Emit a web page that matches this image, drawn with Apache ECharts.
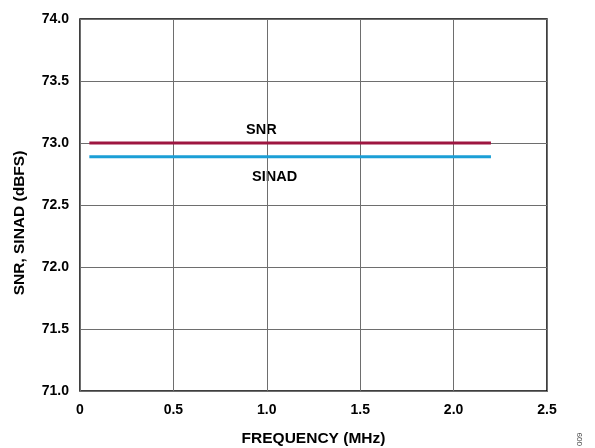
<!DOCTYPE html>
<html>
<head>
<meta charset="utf-8">
<script src="https://cdn.jsdelivr.net/npm/echarts@6/dist/echarts.min.js"></script>
<style>
html,body{margin:0;padding:0;background:#fff;}
#c{width:595px;height:448px;}
</style>
</head>
<body>
<div id="c"></div>
<script>
var freq = [0.05, 0.5, 1.0, 1.5, 2.0, 2.2];
var snr = [73.0, 73.0, 73.0, 73.0, 73.0, 73.0];
var sinad = [72.89, 72.89, 72.89, 72.89, 72.89, 72.89];
var xTicks = ['0', '0.5', '1.0', '1.5', '2.0', '2.5'];
var yTicks = ['71.0', '71.5', '72.0', '72.5', '73.0', '73.5', '74.0'];

var FONT = '"Liberation Sans", Arial, Helvetica, sans-serif';
function pairs(xs, ys){ return xs.map(function(x,i){ return [x, ys[i]]; }); }

var chart = echarts.init(document.getElementById('c'), null, {renderer:'canvas'});
chart.setOption({
  animation:false,
  backgroundColor:'#fff',
  grid:{left:80, right:48, top:19, bottom:57, show:true, borderColor:'#000', borderWidth:1.5,
        containLabel:false, outerBoundsMode:'none'},
  xAxis:{
    type:'value', min:0, max:2.5, interval:0.5,
    name:'FREQUENCY (MHz)', nameLocation:'middle', nameGap:40,
    nameTextStyle:{fontFamily:FONT, fontWeight:'bold', fontSize:15.5, color:'#000'},
    axisLine:{show:false}, axisTick:{show:false},
    axisLabel:{fontFamily:FONT, fontWeight:'bold', fontSize:14, color:'#000', margin:12,
      formatter:function(v){ var i=Math.round(v/0.5); return xTicks[i]; }},
    splitLine:{show:true, lineStyle:{color:'#6e6e6e', width:1}}
  },
  yAxis:{
    type:'value', min:71, max:74, interval:0.5,
    axisLine:{show:false}, axisTick:{show:false},
    axisLabel:{fontFamily:FONT, fontWeight:'bold', fontSize:14, color:'#000', margin:11,
      formatter:function(v){ var i=Math.round((v-71)/0.5); return yTicks[i]; }},
    splitLine:{show:true, lineStyle:{color:'#6e6e6e', width:1}}
  },
  series:[
    {name:'SNR', type:'line', data:pairs(freq, snr), symbol:'none',
     lineStyle:{color:'#9e1640', width:3}, z:3},
    {name:'SINAD', type:'line', data:pairs(freq, sinad), symbol:'none',
     lineStyle:{color:'#1b9fd6', width:3}, z:3}
  ],
  graphic:[
    {type:'text', x:20, y:223, rotation:Math.PI/2,
     style:{text:'SNR, SINAD (dBFS)', font:'bold 15.5px '+FONT, fill:'#000', textAlign:'center', textVerticalAlign:'middle'}},
    {type:'text', left:246, top:122, style:{text:'SNR', font:'bold 14.5px '+FONT, fill:'#000'}},
    {type:'text', left:252, top:169, style:{text:'SINAD', font:'bold 14.5px '+FONT, fill:'#000'}},
    {type:'text', x:576, y:446, rotation:Math.PI/2, style:{text:'009', font:'8px '+FONT, fill:'#444'}}
  ]
});
</script>
</body>
</html>
